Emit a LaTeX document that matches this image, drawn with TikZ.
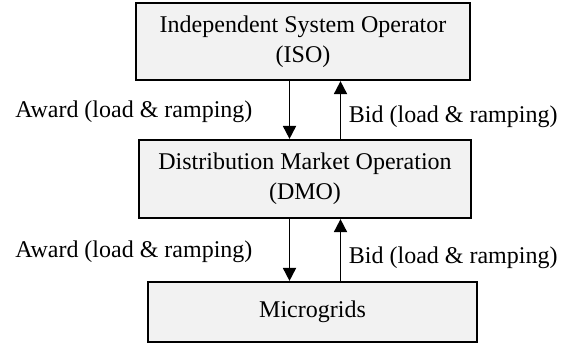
\documentclass[tikz,border=0pt]{standalone}
\usepackage{fontspec}
\setmainfont{Liberation Serif}
\usetikzlibrary{arrows.meta}
\definecolor{boxfill}{HTML}{F2F2F2}
\tikzset{
  blk/.style={draw=black, fill=boxfill, line width=1.1pt, align=center,
    inner sep=0pt, font=\fontsize{12}{15}\selectfont},
  arr/.style={line width=0.9pt, -{Triangle[width=6.5pt,length=6.5pt]}},
  lbl/.style={font=\fontsize{12}{15}\selectfont, inner sep=0pt}
}
\begin{document}
\begin{tikzpicture}[x=0.5pt,y=-0.5pt]
\useasboundingbox (0,0) rectangle (571,345);
\node[blk, minimum width=167pt, minimum height=38.5pt] (iso) at (303,41.5)
  {Independent System Operator\\(ISO)};
\node[blk, minimum width=166pt, minimum height=39pt] (dmo) at (305,179)
  {Distribution Market Operation\\(DMO)};
\node[blk, minimum width=164.5pt, minimum height=30pt] (mg) at (312.5,312)
  {Microgrids};
\coordinate (dn) at (289.5,0);
\coordinate (upc) at (340.5,0);
\draw[arr] (iso.south -| dn) -- (dmo.north -| dn);
\draw[arr] (dmo.north -| upc) -- (iso.south -| upc);
\draw[arr] (dmo.south -| dn) -- (mg.north -| dn);
\draw[arr] (mg.north -| upc) -- (dmo.south -| upc);
\node[lbl, anchor=west] (aw1) at (15,112) {Award (load \& ramping)};
\node[lbl, anchor=west] (bd1) at (348.5,117) {Bid (load \& ramping)};
\node[lbl, anchor=west] (aw2) at (15,252) {Award (load \& ramping)};
\node[lbl, anchor=west] (bd2) at (348.5,258) {Bid (load \& ramping)};
\end{tikzpicture}
\end{document}
